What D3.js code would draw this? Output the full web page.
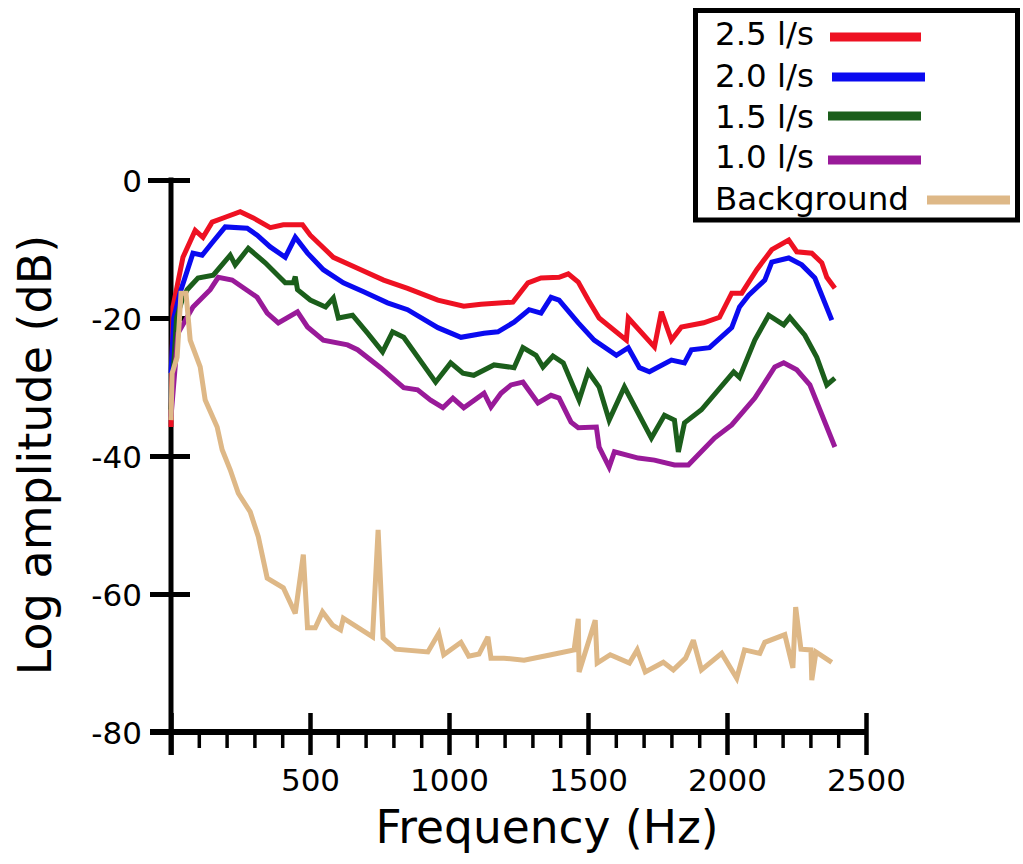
<!DOCTYPE html>
<html>
<head>
<meta charset="utf-8">
<script src="https://cdn.jsdelivr.net/npm/d3@7"></script>
<style>
  html, body { margin: 0; padding: 0; background: #fff; }
  svg { display: block; }
  text { font-family: "DejaVu Sans", sans-serif; fill: #000; }
</style>
</head>
<body>
<svg id="chart" width="1023" height="864"></svg>
<script>
// ---- data: [frequency Hz, log amplitude dB] ----
const flow25 = [[0,-35.8],[7,-18.4],[43,-11.2],[87,-7.3],[115,-8.3],[148,-6.1],[195,-5.4],[249,-4.6],[296,-5.5],[357,-6.9],[404,-6.5],[473,-6.5],[501,-8.0],[584,-11.2],[671,-12.8],[765,-14.5],[851,-15.7],[960,-17.4],[1053,-18.3],[1115,-18.0],[1230,-17.7],[1284,-14.9],[1331,-14.2],[1396,-14.1],[1429,-13.6],[1465,-14.8],[1501,-17.4],[1540,-20.0],[1638,-23.2],[1645,-20.0],[1739,-24.2],[1764,-19.1],[1800,-23.2],[1836,-21.3],[1916,-20.7],[1973,-19.9],[2017,-16.4],[2053,-16.4],[2107,-13.0],[2161,-10.1],[2222,-8.7],[2251,-10.4],[2305,-10.6],[2341,-12.0],[2359,-14.1],[2388,-15.7]];
const flow20 = [[0,-28],[10,-20],[32,-16.4],[79,-10.6],[112,-10.9],[148,-9.1],[195,-6.8],[274,-7.0],[310,-8.0],[357,-9.7],[411,-11.2],[447,-8.3],[491,-10.6],[548,-13.0],[620,-14.9],[693,-16.2],[779,-17.8],[851,-18.8],[960,-21.4],[1043,-22.8],[1126,-22.2],[1176,-22.0],[1234,-20.6],[1288,-18.8],[1331,-19.3],[1367,-17.0],[1396,-17.4],[1465,-20.7],[1522,-23.2],[1602,-25.4],[1645,-24.3],[1685,-27.2],[1721,-27.8],[1800,-26.1],[1847,-26.5],[1872,-24.6],[1937,-24.3],[2017,-21.4],[2045,-18.4],[2078,-16.7],[2136,-14.5],[2161,-11.9],[2222,-11.3],[2269,-12.3],[2316,-14.2],[2377,-20.3]];
const flow15 = [[0,-33.3],[20,-20],[40,-17.4],[58,-15.9],[97,-14.2],[152,-13.8],[213,-10.9],[231,-12.3],[278,-9.9],[339,-12.0],[411,-14.9],[440,-14.9],[447,-14.0],[455,-15.9],[501,-17.4],[556,-18.4],[584,-17.1],[602,-20.0],[653,-19.6],[707,-22.2],[761,-24.9],[797,-22.0],[837,-22.8],[952,-29.3],[1006,-26.5],[1050,-28.0],[1089,-28.3],[1162,-26.8],[1234,-27.2],[1266,-24.3],[1313,-25.4],[1338,-27.1],[1374,-25.5],[1411,-26.5],[1468,-31.9],[1501,-27.8],[1540,-30.0],[1576,-34.8],[1631,-30.0],[1728,-37.4],[1775,-34.1],[1811,-34.8],[1825,-39.4],[1847,-35.2],[1908,-33.3],[2024,-27.8],[2045,-28.6],[2100,-23.2],[2150,-19.6],[2204,-21.0],[2226,-19.9],[2280,-22.5],[2323,-25.7],[2359,-29.7],[2388,-28.7]];
const flow10 = [[0,-34.3],[25,-22.2],[79,-18.4],[141,-15.9],[170,-14.1],[220,-14.5],[310,-17.0],[346,-19.3],[386,-20.7],[455,-19.1],[491,-21.3],[548,-23.2],[635,-23.9],[671,-24.6],[754,-27.2],[837,-30.1],[887,-30.4],[934,-31.9],[978,-33.0],[1014,-31.6],[1053,-33.0],[1126,-30.9],[1151,-32.9],[1187,-30.9],[1223,-29.7],[1266,-29.3],[1320,-32.3],[1367,-31.2],[1396,-31.6],[1439,-35.1],[1465,-35.9],[1530,-35.8],[1540,-38.7],[1576,-41.6],[1595,-39.4],[1681,-40.3],[1739,-40.6],[1811,-41.3],[1861,-41.3],[1955,-37.4],[2017,-35.5],[2100,-31.6],[2172,-27.1],[2204,-26.5],[2251,-27.5],[2298,-29.7],[2388,-38.7]];
const background = [[0,-34.8],[4,-28],[22,-25.7],[36,-16.4],[54,-16.4],[69,-23.2],[105,-27.1],[123,-31.9],[166,-35.8],[184,-39.1],[213,-42.0],[242,-45.4],[285,-48.1],[314,-51.7],[346,-57.7],[404,-59.1],[447,-62.8],[476,-54.3],[491,-64.9],[519,-64.9],[545,-62.6],[581,-64.5],[610,-65.2],[620,-63.5],[725,-66.2],[745,-50.7],[763,-66.4],[808,-68.0],[924,-68.4],[963,-65.7],[981,-68.8],[1043,-67.0],[1071,-69.0],[1108,-68.7],[1140,-66.2],[1151,-69.3],[1198,-69.3],[1270,-69.6],[1367,-68.8],[1450,-68.1],[1465,-63.6],[1468,-71.3],[1526,-63.8],[1533,-70.0],[1580,-68.8],[1649,-70.0],[1677,-68.1],[1706,-71.3],[1771,-69.9],[1807,-71.0],[1851,-69.3],[1879,-66.7],[1908,-71.0],[1981,-68.6],[2035,-72.2],[2063,-68.1],[2118,-68.6],[2136,-67.0],[2208,-65.9],[2237,-70.7],[2247,-61.9],[2266,-68.0],[2302,-68.1],[2305,-72.5],[2320,-68.4],[2377,-69.9]];

const seriesNames = ["2.5 l/s", "2.0 l/s", "1.5 l/s", "1.0 l/s", "Background"];
const seriesColors = ["#ee1122", "#0a0af0", "#1b5e1b", "#991a99", "#deb887"];
const seriesData = [flow25, flow20, flow15, flow10, background];

const xMajorTicks = [0, 500, 1000, 1500, 2000, 2500];
const xMajorLabels = ["", "500", "1000", "1500", "2000", "2500"];
const xMinorTicks = [100,200,300,400,600,700,800,900,1100,1200,1300,1400,1600,1700,1800,1900,2100,2200,2300,2400];
const yTicks = [0, -20, -40, -60, -80];
const yLabels = ["0", "-20", "-40", "-60", "-80"];
const xTitle = "Frequency (Hz)";
const yTitle = "Log amplitude (dB)";

// ---- layout ----
const svg = d3.select("#chart");
const x = d3.scaleLinear().domain([0, 2500]).range([171, 866]);
const y = d3.scaleLinear().domain([-80, 0]).range([732, 180]);

const axisG = svg.append("g");

// minor x ticks
const xMinor = d3.axisBottom(x).tickValues(xMinorTicks).tickSize(16).tickFormat("");
axisG.append("g").attr("transform", `translate(0,${y(-80)})`).call(xMinor)
  .call(g => g.select(".domain").remove())
  .call(g => g.selectAll(".tick line").attr("stroke", "#000").attr("stroke-width", 3.5));

// major x ticks
const xMajor = d3.axisBottom(x).tickValues(xMajorTicks)
  .tickFormat((d, i) => xMajorLabels[i]).tickSize(23);
axisG.append("g").attr("transform", `translate(0,${y(-80)})`).call(xMajor)
  .call(g => g.select(".domain").remove())
  .call(g => g.selectAll(".tick line").attr("y1", -19).attr("stroke", "#000").attr("stroke-width", 4.5))
  .call(g => g.selectAll(".tick text").attr("y", 59).attr("dy", 0)
      .style("font-size", "31px").style("font-family", "DejaVu Sans").attr("fill", "#000"));

// y ticks
const yAxis = d3.axisLeft(y).tickValues(yTicks).tickFormat((d, i) => yLabels[i]).tickSize(21);
axisG.append("g").attr("transform", `translate(${x(0)},0)`).call(yAxis)
  .call(g => g.select(".domain").remove())
  .call(g => g.selectAll(".tick line").attr("x2", d => d === -80 ? 0 : 19).attr("x1", d => d === 0 ? -23 : -21)
      .attr("stroke", "#000").attr("stroke-width", 5))
  .call(g => g.selectAll(".tick text").attr("x", -29).attr("dy", "0.36em")
      .style("font-size", "31px").style("font-family", "DejaVu Sans").attr("fill", "#000"));

// axis lines
axisG.append("line").attr("x1", x(0)).attr("x2", x(0)).attr("y1", y(0) - 2.5).attr("y2", y(-80) + 23)
  .attr("stroke", "#000").attr("stroke-width", 5);
axisG.append("line").attr("x1", x(0) - 21).attr("x2", x(2500) + 2).attr("y1", y(-80)).attr("y2", y(-80))
  .attr("stroke", "#000").attr("stroke-width", 6);

// titles
svg.append("text").attr("transform", `translate(51,455) rotate(-90)`)
  .attr("text-anchor", "middle").style("font-size", "46px").text(yTitle);
svg.append("text").attr("x", 547).attr("y", 843)
  .attr("text-anchor", "middle").style("font-size", "45.5px").text(xTitle);

// lines
const line = d3.line().x(d => x(d[0])).y(d => y(d[1]));
svg.append("g").selectAll("path").data(seriesData).join("path")
  .attr("d", line).attr("fill", "none")
  .attr("stroke", (d, i) => seriesColors[i]).attr("stroke-width", 5)
  .attr("stroke-linejoin", "miter").attr("stroke-miterlimit", 3);

// legend
const leg = svg.append("g");
leg.append("rect").attr("x", 695.5).attr("y", 10.5).attr("width", 322).attr("height", 209.5)
  .attr("fill", "#fff").attr("stroke", "#000").attr("stroke-width", 5);
const legBase = [45, 87, 128, 168, 210];
const legLineX = [[830, 921], [832, 925], [828, 921], [828, 921], [927, 1010]];
const legLineY = [37, 77, 116, 160, 200];
seriesNames.forEach((name, i) => {
  leg.append("text").attr("x", 715).attr("y", legBase[i]).style("font-size", "32.5px").text(name);
  leg.append("line").attr("x1", legLineX[i][0]).attr("x2", legLineX[i][1])
    .attr("y1", legLineY[i]).attr("y2", legLineY[i])
    .attr("stroke", seriesColors[i]).attr("stroke-width", 9);
});
</script>
</body>
</html>
